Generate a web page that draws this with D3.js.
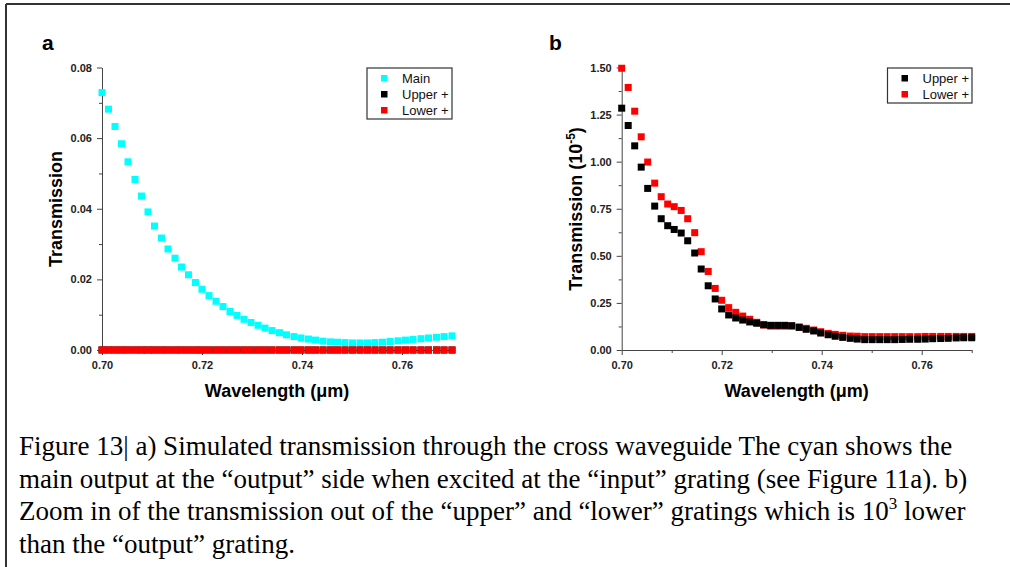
<!DOCTYPE html>
<html>
<head>
<meta charset="utf-8">
<script src="https://cdn.jsdelivr.net/npm/d3@7"></script>
<style>
  body { margin: 0; background: #fff; }
  svg { display: block; }
  .tick text { font-family: "Liberation Sans", Arial, sans-serif; font-weight: bold; font-size: 11px; fill: #222; }
  .axis path, .axis line { stroke: #444; }
</style>
</head>
<body>
<div id="fig"></div>
<script>
// wavelength grid (µm)
var wavelength = [0.7000, 0.7013, 0.7026, 0.7039, 0.7052, 0.7066, 0.7079, 0.7092, 0.7105, 0.7119,
  0.7132, 0.7146, 0.7159, 0.7173, 0.7187, 0.7200, 0.7214, 0.7228, 0.7242, 0.7256,
  0.7270, 0.7284, 0.7298, 0.7312, 0.7326, 0.7340, 0.7355, 0.7369, 0.7384, 0.7398,
  0.7413, 0.7427, 0.7442, 0.7457, 0.7471, 0.7486, 0.7501, 0.7516, 0.7531, 0.7546,
  0.7561, 0.7576, 0.7592, 0.7607, 0.7622, 0.7638, 0.7653, 0.7669, 0.7684, 0.7700];

// panel a: main output
var mainT = [0.0729, 0.0682, 0.0633, 0.0584, 0.0533, 0.0483, 0.0436, 0.0391, 0.0351, 0.0317,
  0.0286, 0.0260, 0.0235, 0.0213, 0.0191, 0.0172, 0.0154, 0.0138, 0.0123, 0.0109,
  0.0098, 0.0087, 0.0078, 0.0070, 0.0062, 0.0055, 0.0049, 0.0043, 0.0038, 0.0034,
  0.0031, 0.0028, 0.0025, 0.0023, 0.0022, 0.0021, 0.0020, 0.0020, 0.0020, 0.0021,
  0.0022, 0.0024, 0.0026, 0.0028, 0.0030, 0.0032, 0.0034, 0.0036, 0.0038, 0.0040];

// panel b: upper / lower outputs, in units of 1e-5
var upperT = [1.284, 1.192, 1.084, 0.971, 0.858, 0.764, 0.697, 0.660, 0.640, 0.621,
  0.580, 0.515, 0.430, 0.341, 0.271, 0.218, 0.186, 0.170, 0.159, 0.149,
  0.142, 0.134, 0.131, 0.131, 0.131, 0.129, 0.120, 0.110, 0.101, 0.090,
  0.081, 0.073, 0.067, 0.062, 0.058, 0.055, 0.055, 0.055, 0.055, 0.055,
  0.056, 0.057, 0.057, 0.058, 0.060, 0.061, 0.062, 0.064, 0.065, 0.065];
var lowerT = [1.496, 1.394, 1.268, 1.132, 0.998, 0.886, 0.814, 0.775, 0.761, 0.741,
  0.697, 0.623, 0.522, 0.417, 0.327, 0.264, 0.225, 0.200, 0.180, 0.163,
  0.147, 0.133, 0.127, 0.127, 0.127, 0.127, 0.122, 0.115, 0.106, 0.097,
  0.088, 0.083, 0.078, 0.074, 0.073, 0.071, 0.071, 0.071, 0.071, 0.071,
  0.071, 0.071, 0.071, 0.072, 0.072, 0.072, 0.072, 0.072, 0.072, 0.072];

var xTicks = [0.70, 0.72, 0.74, 0.76];
var xMinor = [0.71, 0.73, 0.75, 0.77];
var yTicksA = [0, 0.02, 0.04, 0.06, 0.08];
var yMinorA = [0.01, 0.03, 0.05, 0.07];
var yTicksB = [0, 0.25, 0.5, 0.75, 1.0, 1.25, 1.5];
var yMinorB = [0.125, 0.375, 0.625, 0.875, 1.125, 1.375];

var captionLines = [
  "Figure 13| a) Simulated transmission through the cross waveguide The cyan shows the",
  "main output at the \u201coutput\u201d side when excited at the \u201cinput\u201d grating (see Figure 11a). b)",
  "Zoom in of the transmission out of the \u201cupper\u201d and \u201clower\u201d gratings which is 10",
  "than the \u201coutput\u201d grating."
];

var W = 1010, H = 567;
var sans = '"Liberation Sans", Arial, sans-serif';
var svg = d3.select("#fig").append("svg")
    .attr("width", W).attr("height", H);

// frame (top and left edges only)
svg.append("line").attr("x1", 6).attr("y1", 4).attr("x2", W).attr("y2", 4)
    .attr("stroke", "#333").attr("stroke-width", 2);
svg.append("line").attr("x1", 6).attr("y1", 4).attr("x2", 6).attr("y2", H)
    .attr("stroke", "#333").attr("stroke-width", 2);

function panel(opt) {
  var x = d3.scaleLinear().domain([0.70, 0.77]).range([opt.left, opt.left + 350]);
  var y = d3.scaleLinear().domain(opt.yDomain).range([350, 67.5]);
  var g = svg.append("g");

  // minor ticks
  g.append("g").attr("class", "axis")
      .attr("transform", "translate(0,350)")
      .call(d3.axisBottom(x).tickValues(xMinor).tickSize(3).tickFormat(""))
      .select(".domain").remove();
  g.append("g").attr("class", "axis")
      .attr("transform", "translate(" + opt.left + ",0)")
      .call(d3.axisLeft(y).tickValues(opt.yMinor).tickSize(3).tickFormat(""))
      .select(".domain").remove();

  g.append("g").attr("class", "axis")
      .attr("transform", "translate(0,350)")
      .call(d3.axisBottom(x).tickValues(xTicks).tickSize(5).tickSizeOuter(0)
        .tickPadding(6).tickFormat(d3.format(".2f")));
  g.append("g").attr("class", "axis")
      .attr("transform", "translate(" + opt.left + ",0)")
      .call(d3.axisLeft(y).tickValues(opt.yTicks).tickSize(5).tickSizeOuter(0)
        .tickPadding(5).tickFormat(d3.format(".2f")));

  // markers
  opt.series.forEach(function(s) {
    g.append("g").selectAll("rect")
      .data(s.values)
      .enter().append("rect")
      .attr("x", function(d, i) { return x(wavelength[i]) - 3.5; })
      .attr("y", function(d) { return y(d) - 3.5; })
      .attr("width", 7).attr("height", 7)
      .attr("fill", s.color);
  });

  // axis titles
  g.append("text")
      .attr("x", opt.left + 175).attr("y", 397)
      .attr("text-anchor", "middle")
      .style("font-family", sans).style("font-weight", "bold").style("font-size", "18px")
      .text("Wavelength (\u03bcm)");
  var yl = g.append("text")
      .attr("transform", "translate(" + opt.yLabelX + ",209) rotate(-90)")
      .attr("text-anchor", "middle")
      .style("font-family", sans).style("font-weight", "bold").style("font-size", "18px");
  yl.append("tspan").text(opt.yLabel);
  if (opt.yExp) {
    yl.append("tspan").attr("dy", -7).style("font-size", "12px").text(opt.yExp);
    yl.append("tspan").attr("dy", 7).text(")");
  }

  // panel letter
  g.append("text")
      .attr("x", opt.letterX).attr("y", 50)
      .style("font-family", sans).style("font-weight", "bold").style("font-size", "21px")
      .text(opt.letter);

  // legend
  var lg = g.append("g").attr("transform", "translate(" + opt.legend[0] + "," + opt.legend[1] + ")");
  lg.append("rect")
      .attr("width", opt.legend[2]).attr("height", opt.legendOrder.length * 16 + 3)
      .attr("fill", "#fff").attr("stroke", "#333").attr("stroke-width", 1.2);
  opt.legendOrder.forEach(function(s, i) {
    lg.append("rect")
        .attr("x", 14).attr("y", 7 + i * 16)
        .attr("width", 6.5).attr("height", 6.5)
        .attr("fill", s.color);
    lg.append("text")
        .attr("x", 35).attr("y", 14.5 + i * 16)
        .style("font-family", sans).style("font-size", "13px").attr("fill", "#111")
        .text(s.name);
  });
}

var upperA = upperT.map(function(v) { return v * 1e-5; });
var lowerA = lowerT.map(function(v) { return v * 1e-5; });

var sMain = {name: "Main", color: "#00ffff", values: mainT};
var sUpA = {name: "Upper +", color: "#000000", values: upperA};
var sLoA = {name: "Lower +", color: "#ff0000", values: lowerA};
var sUpB = {name: "Upper +", color: "#000000", values: upperT};
var sLoB = {name: "Lower +", color: "#ff0000", values: lowerT};

panel({
  left: 102, yDomain: [0, 0.08], yTicks: yTicksA, yMinor: yMinorA,
  series: [sMain, sUpA, sLoA], legendOrder: [sMain, sUpA, sLoA],
  legend: [367, 68, 85],
  yLabel: "Transmission", yLabelX: 62, letter: "a", letterX: 42
});
panel({
  left: 621.7, yDomain: [0, 1.5], yTicks: yTicksB, yMinor: yMinorB,
  series: [sLoB, sUpB], legendOrder: [sUpB, sLoB],
  legend: [887.5, 68, 84.5],
  yLabel: "Transmission (10", yExp: "-5", yLabelX: 582, letter: "b", letterX: 549
});

// caption
var cap = svg.append("g")
    .style("font-family", '"Liberation Serif", "Times New Roman", serif')
    .style("font-size", "27px").attr("fill", "#000");
captionLines.forEach(function(line, i) {
  var t = cap.append("text").attr("x", 19).attr("y", 455 + i * 32.5).text(line);
  if (i === 2) {
    t.append("tspan").attr("dy", -11).style("font-size", "17px").text("3");
    t.append("tspan").attr("dy", 11).text(" lower");
  }
});
</script>
</body>
</html>
